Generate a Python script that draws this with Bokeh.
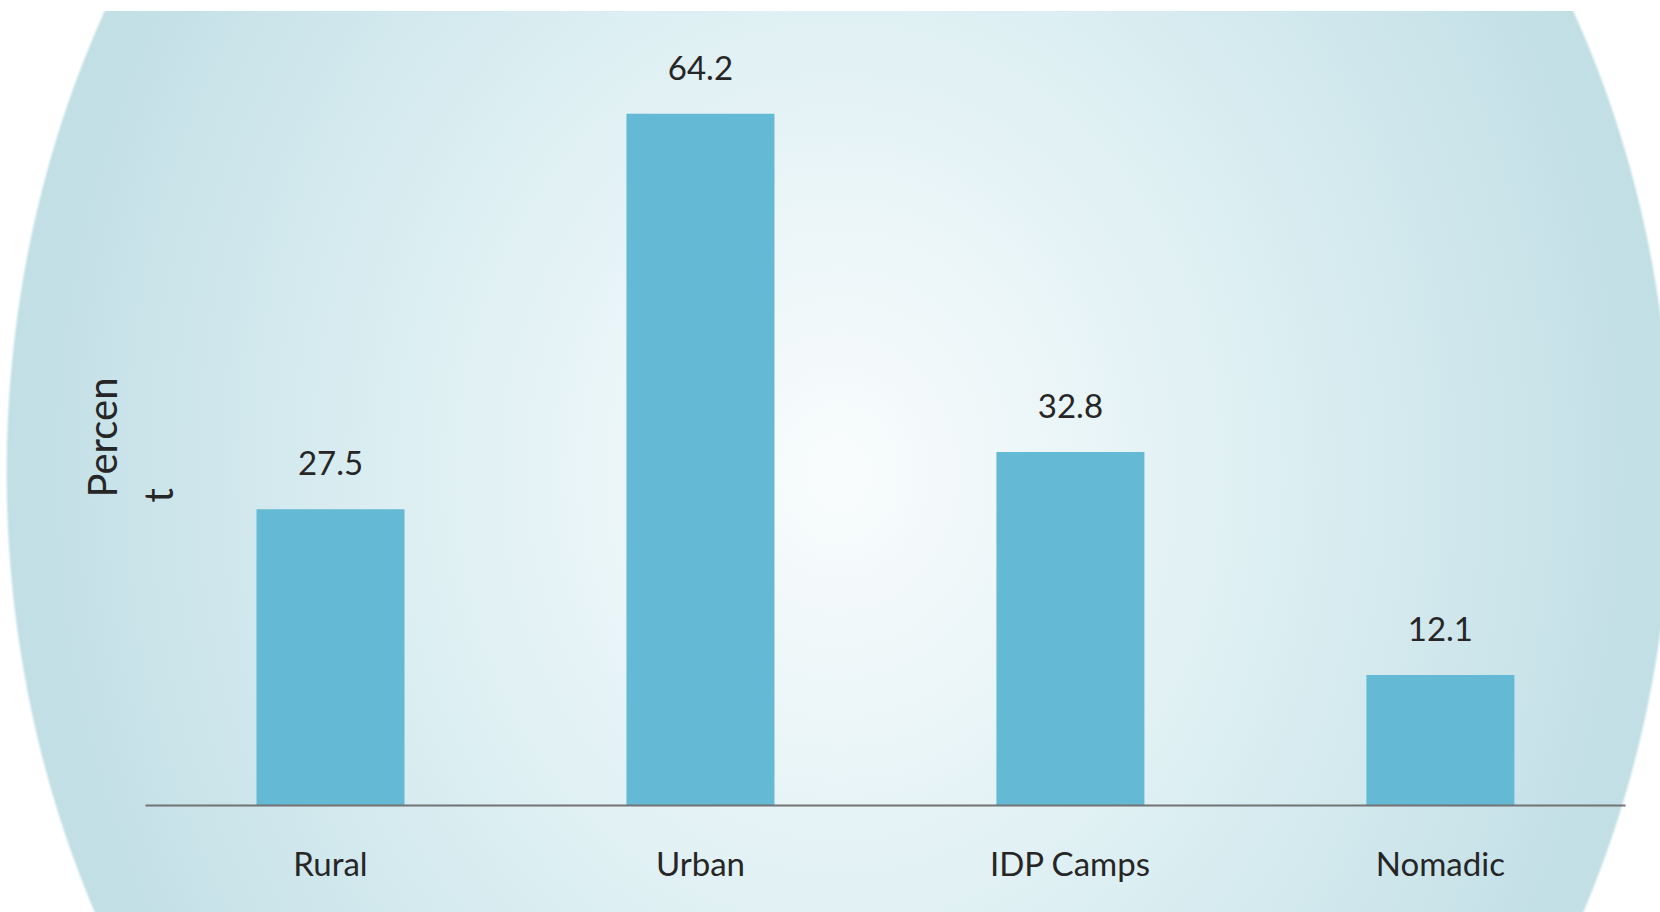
import math
from bokeh.plotting import figure
from bokeh.models import ColumnDataSource, LabelSet, Label, Range1d, FixedTicker
from bokeh.core.properties import value
from bokeh.embed import file_html
from bokeh.resources import INLINE

categories = ["Rural", "Urban", "IDP Camps", "Nomadic"]
values = [27.5, 64.2, 32.8, 12.1]
value_labels = ["27.5", "64.2", "32.8", "12.1"]
y_title_lines = ["Percen", "t"]

FONT = "Lato"
TEXT = "#262626"
BAR = "#64B9D5"

positions = list(range(len(categories)))
src = ColumnDataSource(dict(x=positions, cat=categories, val=values, lab=value_labels))

p = figure(
    x_range=Range1d(-0.892, 3.595),
    y_range=Range1d(0, 74.7),
    width=1660, height=912,
    output_backend="svg", toolbar_location=None,
    min_border_left=0, min_border_right=0,
    min_border_top=0, min_border_bottom=107,
)
p.border_fill_color = None
p.background_fill_color = None
p.outline_line_color = None
p.styles = {
    "background": "linear-gradient(#ffffff 0px, #ffffff 11px, rgba(255,255,255,0) 11px), "
                  "radial-gradient(ellipse 834px 983px at 839px 473px, "
                  "#f9fcfd 0%, #ecf6f8 25%, #dbeef2 55%, #cce5eb 80%, "
                  "#c1dfe5 99.6%, rgba(255,255,255,0) 100%)"
}

p.vbar(x="x", top="val", width=0.4, source=src, fill_color=BAR, line_color=None)

p.add_layout(LabelSet(x="x", y="val", text="lab", source=src,
                      y_offset=46, text_align="center", text_baseline="middle",
                      text_font=value(FONT), text_font_size=value("33px"),
                      text_color=value(TEXT)))

p.xgrid.visible = False
p.ygrid.visible = False
p.yaxis.visible = False

ax = p.xaxis[0]
ax.ticker = FixedTicker(ticks=positions)
ax.major_label_overrides = {i: c for i, c in zip(positions, categories)}
ax.bounds = (-0.5, len(categories) - 0.5)
ax.axis_line_color = "#737373"
ax.axis_line_width = 2
ax.major_tick_line_color = None
ax.minor_tick_line_color = None
ax.major_label_text_font = FONT
ax.major_label_text_font_size = "33px"
ax.major_label_text_color = TEXT
ax.major_label_standoff = 31

for txt, xs, ys in zip(y_title_lines, [101, 157], [308, 303]):
    p.add_layout(Label(x=xs, y=ys, x_units="screen", y_units="screen", text=txt,
                       angle=math.pi / 2, text_align="left", text_baseline="middle",
                       text_font=FONT, text_font_size="40px", text_color=TEXT))

open("out.html", "w").write(file_html(p, INLINE))
